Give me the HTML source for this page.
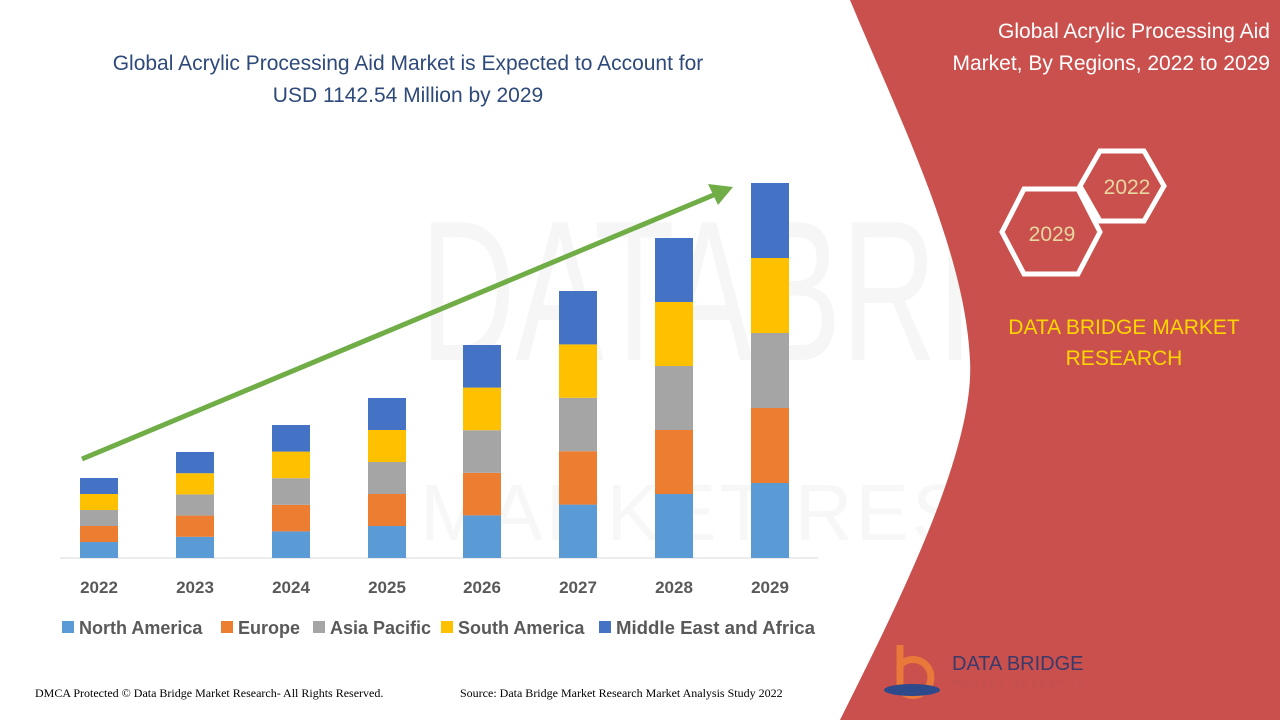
<!DOCTYPE html>
<html><head><meta charset="utf-8"><style>
body{margin:0;width:1280px;height:720px;overflow:hidden;background:#fff;font-family:"Liberation Sans",sans-serif}
</style></head><body>
<svg width="1280" height="720" xmlns="http://www.w3.org/2000/svg" style="position:absolute;left:0;top:0">
<rect width="1280" height="720" fill="#fff"/>
<text x="420" y="360" font-size="200" fill="#f6f6f6" font-family="Liberation Sans" textLength="840" lengthAdjust="spacingAndGlyphs">DATABRIDGE</text>
<text x="420" y="540" font-size="80" fill="#f7f7f7" font-family="Liberation Sans" textLength="840" lengthAdjust="spacing">MARKET RESEARCH</text>
<path d="M850,0 L1280,0 L1280,720 L840,720 C900,600 975,450 970,360 C965,250 900,120 850,0 Z" fill="#c9504d"/>
<text x="408" y="70" font-size="21" fill="#2e4a7a" text-anchor="middle">Global Acrylic Processing Aid Market is Expected to Account for</text>
<text x="408" y="102" font-size="21" fill="#2e4a7a" text-anchor="middle">USD 1142.54 Million by 2029</text>
<text x="1270" y="38" font-size="21" fill="#fff" text-anchor="end">Global Acrylic Processing Aid</text>
<text x="1270" y="70" font-size="21" fill="#fff" text-anchor="end">Market, By Regions, 2022 to 2029</text>
<polygon points="1100,151 1144,151 1164,186 1144,221 1100,221 1080,186" fill="none" stroke="#fff" stroke-width="5"/>
<text x="1127" y="194" font-size="21" fill="#e8d7a0" text-anchor="middle">2022</text>
<polygon points="1024,189 1078,189 1100,232 1078,274 1024,274 1002,232" fill="none" stroke="#fff" stroke-width="5"/>
<text x="1052" y="241" font-size="21" fill="#e8d7a0" text-anchor="middle">2029</text>
<text x="1124" y="334" font-size="21" fill="#ffd700" text-anchor="middle">DATA BRIDGE MARKET</text>
<text x="1124" y="365" font-size="21" fill="#ffd700" text-anchor="middle">RESEARCH</text>
<line x1="60" y1="558" x2="818" y2="558" stroke="#d9d9d9" stroke-width="1"/>
<g id="bars"></g>
<line x1="82" y1="459" x2="716" y2="194" stroke="#70ad47" stroke-width="5"/>
<polygon points="733,187 708,184 718,205" fill="#70ad47"/>
<g font-size="17" font-weight="bold" fill="#595959" text-anchor="middle">
<text x="99" y="593">2022</text><text x="195" y="593">2023</text><text x="291" y="593">2024</text><text x="387" y="593">2025</text><text x="482" y="593">2026</text><text x="578" y="593">2027</text><text x="674" y="593">2028</text><text x="770" y="593">2029</text>
</g>
<g font-size="18" font-weight="bold" fill="#595959">
<rect x="62" y="621" width="12" height="12" fill="#5b9bd5"/><text x="79" y="634">North America</text>
<rect x="221" y="621" width="12" height="12" fill="#ed7d31"/><text x="238" y="634">Europe</text>
<rect x="313" y="621" width="12" height="12" fill="#a5a5a5"/><text x="330" y="634">Asia Pacific</text>
<rect x="441" y="621" width="12" height="12" fill="#ffc000"/><text x="458" y="634">South America</text>
<rect x="599" y="621" width="12" height="12" fill="#4472c4"/><text x="616" y="634" textLength="199" lengthAdjust="spacingAndGlyphs">Middle East and Africa</text>
</g>
<text x="35" y="697" font-size="12" fill="#000" font-family="Liberation Serif">DMCA Protected © Data Bridge Market Research- All Rights Reserved.</text>
<text x="460" y="697" font-size="12" fill="#000" font-family="Liberation Serif">Source: Data Bridge Market Research Market Analysis Study 2022</text>
<path d="M900,645 L900,690 M900,665 a18,18 0 1 1 0,25" stroke="#e8793a" stroke-width="7" fill="none"/>
<ellipse cx="912" cy="690" rx="28" ry="6" fill="#2e4a8a"/>
<text x="952" y="670" font-size="20" fill="#3a3a6a">DATA BRIDGE</text>
<text x="952" y="686" font-size="9" fill="#c0504d" letter-spacing="3">MARKET RESEARCH</text>
</svg>
<script>
var xs=[80,176,272,368,463,559,655,751],h=[16,21.2,26.6,32,42.6,53.4,64,75],c=["#5b9bd5","#ed7d31","#a5a5a5","#ffc000","#4472c4"],s="";
for(var i=0;i<8;i++){var y=558;for(var j=0;j<5;j++){y-=h[i];s+='<rect x="'+xs[i]+'" y="'+y+'" width="38" height="'+h[i]+'" fill="'+c[j]+'"/>';}}
document.getElementById("bars").innerHTML=s;
</script>
</body></html>
